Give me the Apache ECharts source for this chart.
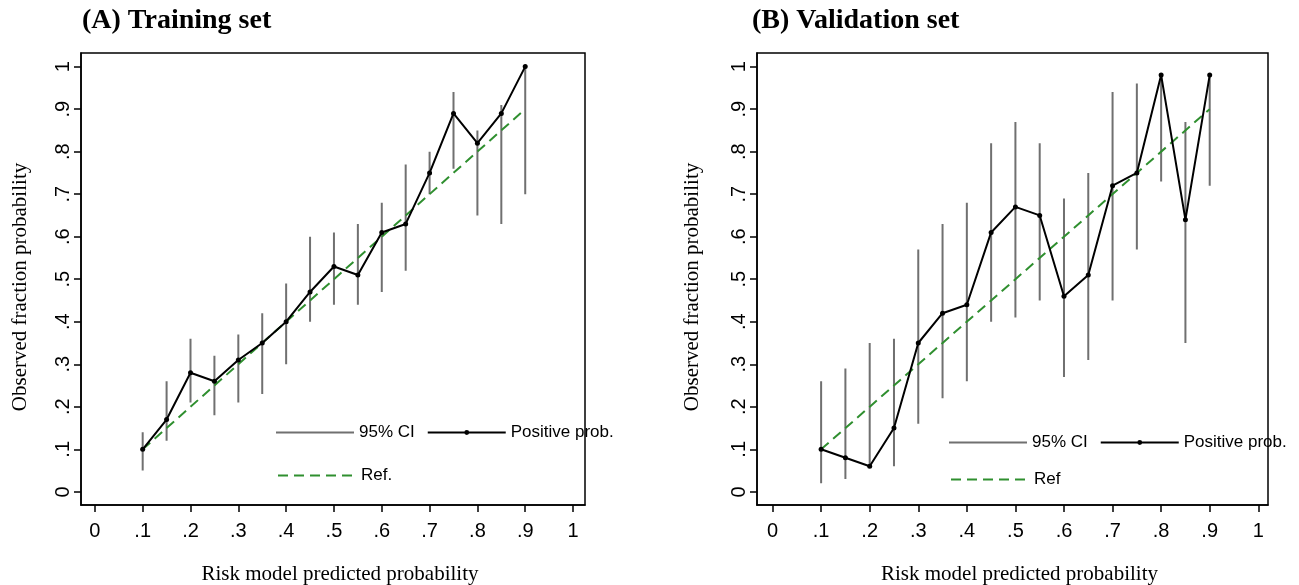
<!DOCTYPE html>
<html>
<head>
<meta charset="utf-8">
<script src="https://cdn.jsdelivr.net/npm/echarts@6/dist/echarts.min.js"></script>
<style>
    html, body { margin: 0; padding: 0; background: #fff; }
    .panel { position: absolute; top: 0; height: 585px; }
    #train { left: 0; width: 650px; }
    #valid { left: 650px; width: 649px; }
</style>
</head>
<body>
<div id="train" class="panel"></div>
<div id="valid" class="panel"></div>
<script>
// predicted probability bins
var xs = [0.1, 0.15, 0.2, 0.25, 0.3, 0.35, 0.4, 0.45, 0.5, 0.55, 0.6, 0.65, 0.7, 0.75, 0.8, 0.85, 0.9]

// training set: observed fraction + 95% CI
var trainObs  = [0.10, 0.17, 0.28, 0.26, 0.31, 0.35, 0.40, 0.47, 0.53, 0.51, 0.61, 0.63, 0.75, 0.89, 0.82, 0.89, 1.00]
var trainLow  = [0.05, 0.12, 0.21, 0.18, 0.21, 0.23, 0.30, 0.40, 0.44, 0.44, 0.47, 0.52, 0.70, 0.76, 0.65, 0.63, 0.70]
var trainHigh = [0.14, 0.26, 0.36, 0.32, 0.37, 0.42, 0.49, 0.60, 0.61, 0.63, 0.68, 0.77, 0.80, 0.94, 0.85, 0.91, 1.00]

// validation set
var validObs  = [0.10, 0.08, 0.06, 0.15, 0.35, 0.42, 0.44, 0.61, 0.67, 0.65, 0.46, 0.51, 0.72, 0.75, 0.98, 0.64, 0.98]
var validLow  = [0.02, 0.03, 0.06, 0.06, 0.16, 0.22, 0.26, 0.40, 0.41, 0.45, 0.27, 0.31, 0.45, 0.57, 0.73, 0.35, 0.72]
var validHigh = [0.26, 0.29, 0.35, 0.36, 0.57, 0.63, 0.68, 0.82, 0.87, 0.82, 0.69, 0.75, 0.94, 0.96, 0.98, 0.87, 0.98]

// reference (perfect calibration) line
var refX = [0.1, 0.9]
var refY = [0.1, 0.9]

var tickValues = [0, 0.1, 0.2, 0.3, 0.4, 0.5, 0.6, 0.7, 0.8, 0.9, 1]
var tickLabels = ['0', '.1', '.2', '.3', '.4', '.5', '.6', '.7', '.8', '.9', '1']

var SANS = 'Liberation Sans, Arial, sans-serif'
var SERIF = 'Liberation Serif, Times New Roman, serif'

function fmt(v){
    var i = tickValues.indexOf(v)
    return i >= 0 ? tickLabels[i] : ''
}

function pairs(a, b){
    var out = []
    for(var i=0; i<a.length; i++) out.push([a[i], b[i]])
    return out
}

// vertical CI bars as one broken line
function ciData(lo, hi){
    var out = []
    for(var i=0; i<xs.length; i++){
        out.push([xs[i], lo[i]])
        out.push([xs[i], hi[i]])
        out.push([xs[i], '-'])
    }
    return out
}

function makeOption(p){
    return {
        animation: false,
        title: {
            text: p.title,
            left: p.titleLeft,
            top: 7,
            padding: 0,
            textStyle: { fontFamily: SERIF, fontWeight: 'bold', fontSize: 28, color: '#000' }
        },
        legend: [
            {
                data: [
                    { name: '95% CI', itemStyle: { opacity: 0 } },
                    'Positive prob.'
                ],
                left: p.legLeft,
                top: p.legTop1,
                padding: 0,
                itemWidth: 78,
                itemHeight: 6,
                itemGap: 12,
                selectedMode: false,
                textStyle: { fontFamily: SANS, fontSize: 17, color: '#000' }
            },
            {
                data: [ { name: p.refName, itemStyle: { opacity: 0 } } ],
                left: p.legLeft + 2,
                top: p.legTop2,
                padding: 0,
                itemWidth: 78,
                itemHeight: 6,
                selectedMode: false,
                textStyle: { fontFamily: SANS, fontSize: 17, color: '#000' }
            }
        ],
        grid: {
            left: p.gridLeft, top: 53, width: p.gridWidth, height: 452,
            outerBoundsMode: 'none',
            show: true, borderColor: '#000', borderWidth: 1.5, backgroundColor: '#fff'
        },
        xAxis: {
            type: 'value',
            min: p.xMin, max: p.xMax,
            name: 'Risk model predicted probability',
            nameLocation: 'middle',
            nameGap: 59,
            nameTextStyle: { fontFamily: SERIF, fontSize: 21, color: '#000', padding: [0, 0, 0, 14] },
            axisLine: { onZero: false, lineStyle: { color: '#000', width: 1.5 } },
            axisTick: { customValues: tickValues, length: 7, lineStyle: { color: '#000', width: 1.5 } },
            axisLabel: { customValues: tickValues, formatter: fmt, margin: 16, fontFamily: SANS, fontSize: 20, color: '#000' },
            splitLine: { show: false }
        },
        yAxis: {
            type: 'value',
            min: -0.031, max: 1.032,
            name: 'Observed fraction probability',
            nameLocation: 'middle',
            nameGap: p.yNameGap,
            nameTextStyle: { fontFamily: SERIF, fontSize: 21, color: '#000', padding: [0, 16, 0, 0] },
            axisLine: { onZero: false, lineStyle: { color: '#000', width: 1.5 } },
            axisTick: { customValues: tickValues, length: 7, lineStyle: { color: '#000', width: 1.5 } },
            axisLabel: { customValues: tickValues, formatter: fmt, rotate: 90, margin: 8, fontFamily: SANS, fontSize: 20, color: '#000' },
            splitLine: { show: false }
        },
        series: [
            {
                name: '95% CI',
                type: 'line',
                data: ciData(p.low, p.high),
                symbol: 'none',
                connectNulls: false,
                lineStyle: { color: '#707070', width: 2 },
                itemStyle: { color: '#707070' },
                z: 2
            },
            {
                name: p.refName,
                type: 'line',
                data: pairs(refX, refY),
                symbol: 'none',
                lineStyle: { color: '#2f8f2f', width: 2, type: [10, 6] },
                itemStyle: { color: '#2f8f2f' },
                z: 3
            },
            {
                name: 'Positive prob.',
                type: 'line',
                data: pairs(xs, p.obs),
                symbol: 'circle',
                symbolSize: 5,
                lineStyle: { color: '#000', width: 2 },
                itemStyle: { color: '#000' },
                z: 4
            }
        ]
    }
}

var trainChart = echarts.init(document.getElementById('train'))
trainChart.setOption(makeOption({
    title: '(A) Training set', titleLeft: 82,
    gridLeft: 81, gridWidth: 504, xMin: -0.029, xMax: 1.025,
    yNameGap: 50,
    obs: trainObs, low: trainLow, high: trainHigh,
    refName: 'Ref.',
    legLeft: 275, legTop1: 424, legTop2: 467
}))

var validChart = echarts.init(document.getElementById('valid'))
validChart.setOption(makeOption({
    title: '(B) Validation set', titleLeft: 102,
    gridLeft: 107, gridWidth: 511, xMin: -0.032, xMax: 1.02,
    yNameGap: 54,
    obs: validObs, low: validLow, high: validHigh,
    refName: 'Ref',
    legLeft: 298, legTop1: 434, legTop2: 471
}))
</script>
</body>
</html>
